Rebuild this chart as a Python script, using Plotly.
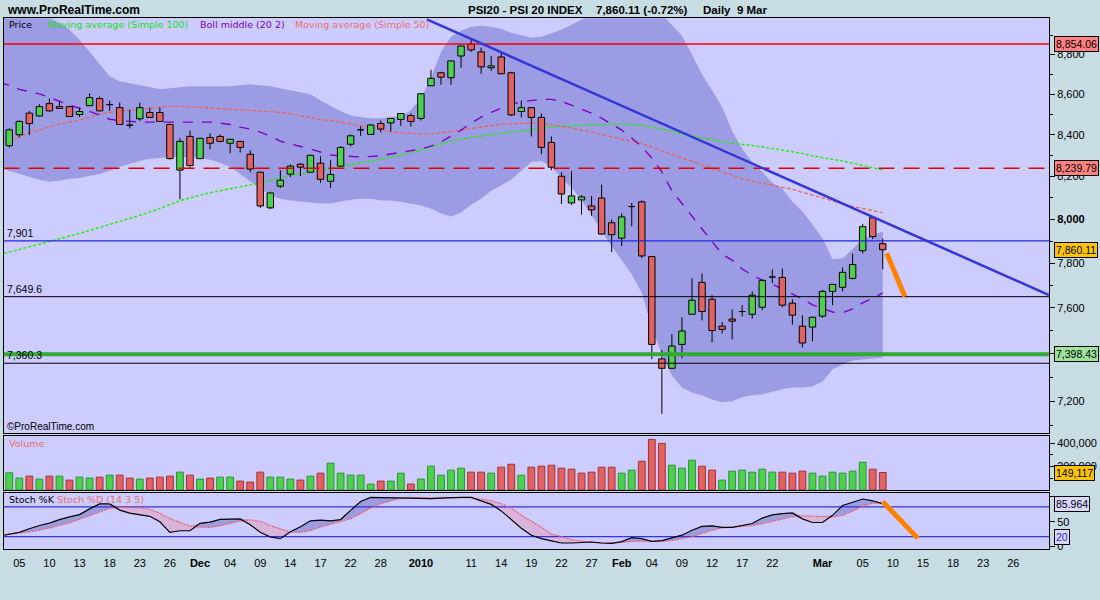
import numpy as np
import pandas as pd
import plotly.graph_objects as go

# ---------------- calendar ----------------
HOLIDAYS = ["2009-12-25", "2010-01-01"]
axis_days = [d.strftime("%Y-%m-%d") for d in pd.bdate_range("2009-11-03", "2010-03-26")]
axis_days = [d for d in axis_days if d not in HOLIDAYS]
POS = {d: i for i, d in enumerate(axis_days)}
ind_x = list(range(POS["2010-03-09"] + 1))   # indicators: 3 Nov .. 9 Mar
bar_x = ind_x[1:]                             # candles / volume: 4 Nov .. 9 Mar

# ---------------- price data (4 Nov 2009 .. 9 Mar 2010) ----------------
open_ = [8348, 8401, 8507, 8493, 8554, 8539, 8539, 8500, 8544, 8579,
         8549, 8534, 8448, 8479, 8510, 8510, 8451, 8231, 8393, 8286,
         8388, 8393, 8360, 8369, 8307, 8221, 8053, 8155, 8212, 8259,
         8221, 8264, 8178, 8250, 8355, 8425, 8403, 8456, 8459, 8476,
         8495, 8481, 8643, 8708, 8683, 8793, 8854, 8814, 8733, 8788,
         8708, 8515, 8534, 8486, 8364, 8202, 8076, 8090, 8062, 8099,
         7984, 7913, 8059, 8081, 7829, 7379, 7339, 7441, 7572, 7713,
         7638, 7520, 7551, 7584, 7572, 7603, 7737, 7735, 7621, 7520,
         7516, 7564, 7673, 7691, 7731, 7856, 8007, 7888]
high = [8432, 8472, 8518, 8551, 8579, 8564, 8541, 8534, 8605, 8589,
        8569, 8559, 8523, 8559, 8534, 8534, 8456, 8384, 8422, 8386,
        8408, 8403, 8381, 8371, 8326, 8224, 8124, 8231, 8259, 8264,
        8304, 8297, 8278, 8346, 8403, 8442, 8452, 8471, 8482, 8507,
        8505, 8605, 8723, 8713, 8770, 8846, 8880, 8835, 8793, 8809,
        8713, 8569, 8537, 8505, 8393, 8221, 8226, 8113, 8109, 8162,
        7999, 8027, 8076, 8088, 7831, 7417, 7486, 7559, 7731, 7753,
        7656, 7538, 7594, 7612, 7673, 7726, 7771, 7775, 7638, 7568,
        7561, 7680, 7706, 7780, 7843, 7979, 8011, 7911]
low = [8339, 8389, 8400, 8490, 8515, 8527, 8489, 8488, 8543, 8516,
       8518, 8450, 8432, 8469, 8484, 8465, 8281, 8093, 8243, 8284,
       8331, 8364, 8312, 8316, 8221, 8053, 8048, 8146, 8198, 8202,
       8220, 8170, 8146, 8246, 8345, 8396, 8401, 8413, 8417, 8445,
       8442, 8471, 8641, 8648, 8648, 8733, 8814, 8703, 8718, 8701,
       8493, 8486, 8393, 8307, 8231, 8071, 8067, 8021, 8016, 7929,
       7849, 7877, 7968, 7823, 7378, 7148, 7338, 7382, 7571, 7545,
       7450, 7489, 7463, 7562, 7553, 7590, 7710, 7603, 7527, 7428,
       7454, 7556, 7612, 7673, 7726, 7843, 7909, 7771]
close = [8425, 8466, 8456, 8539, 8518, 8530, 8490, 8515, 8584, 8518,
         8549, 8451, 8448, 8534, 8486, 8466, 8286, 8369, 8253, 8384,
         8360, 8369, 8379, 8340, 8236, 8062, 8123, 8183, 8250, 8245,
         8302, 8187, 8210, 8340, 8396, 8425, 8449, 8429, 8481, 8505,
         8466, 8603, 8680, 8686, 8768, 8844, 8824, 8738, 8743, 8703,
         8498, 8534, 8486, 8340, 8245, 8118, 8109, 8104, 8044, 7932,
         7929, 8011, 8059, 7832, 7441, 7339, 7434, 7499, 7634, 7584,
         7501, 7506, 7542, 7584, 7656, 7722, 7737, 7612, 7568, 7447,
         7559, 7673, 7704, 7758, 7793, 7966, 7920, 7860.11]
volume = [146300, 101200, 118100, 92700, 118100, 118100, 84300, 109700, 101200, 109700,
          126600, 126600, 101200, 92700, 101200, 109700, 118100, 151900, 126600, 92700,
          101200, 109700, 109700, 75800, 67400, 151900, 109700, 109700, 92700, 84300,
          118100, 143500, 228100, 143500, 126600, 126600, 50500, 75800, 75800, 143500,
          50500, 92700, 202700, 126600, 168900, 185800, 151900, 151900, 143500, 194200,
          219600, 126600, 194200, 202700, 211100, 185800, 177300, 143500, 151900, 194200,
          194200, 143500, 168900, 245000, 431000, 397200, 211100, 185800, 253400, 202700,
          168900, 84300, 160400, 168900, 151900, 177300, 151900, 151900, 143500, 160400,
          143500, 118100, 151900, 143500, 160400, 236500, 177300, 149117]

# ---------------- indicators (3 Nov 2009 .. 9 Mar 2010) ----------------
bb_upper = [9240, 9188, 9135, 9083, 9031, 8989, 8963, 8928, 8876, 8815, 8750,
            8690, 8665, 8655, 8645, 8635, 8625, 8630, 8635, 8640, 8640,
            8640, 8640, 8640, 8645, 8650, 8645, 8640, 8630, 8620, 8610,
            8600, 8570, 8541, 8516, 8497, 8487, 8482, 8482, 8487, 8492,
            8521, 8580, 8680, 8815, 8892, 8922, 8943, 8948, 8943, 8933,
            8912, 8897, 8886, 8892, 8912, 8928, 8953, 8979, 9010, 9041,
            9062, 9073, 9067, 9052, 9031, 9005, 8953, 8897, 8800, 8700,
            8620, 8536, 8419, 8332, 8270, 8223, 8171, 8143, 8082, 8036,
            7976, 7912, 7817, 7822, 7862, 7912, 7926, 7944]
bb_lower = [8242, 8228, 8213, 8199, 8185, 8176, 8180, 8190, 8194, 8204, 8213,
            8228, 8247, 8261, 8275, 8285, 8289, 8294, 8294, 8294, 8289,
            8280, 8266, 8247, 8213, 8176, 8143, 8114, 8096, 8087, 8082,
            8078, 8073, 8073, 8082, 8091, 8096, 8096, 8088, 8087, 8082,
            8073, 8064, 8050, 8027, 8013, 8031, 8068, 8096, 8133, 8161,
            8185, 8228, 8270, 8275, 8247, 8194, 8147, 8091, 8018, 7949,
            7876, 7813, 7750, 7666, 7513, 7398, 7308, 7258, 7237, 7225,
            7208, 7196, 7200, 7217, 7225, 7229, 7241, 7250, 7258, 7258,
            7262, 7283, 7334, 7355, 7372, 7376, 7381, 7385]
bb_mid = [8660, 8645, 8625, 8615, 8602, 8585, 8565, 8546, 8531, 8516, 8497,
          8477, 8470, 8465, 8463, 8463, 8463, 8463, 8463, 8463, 8463,
          8463, 8458, 8451, 8438, 8429, 8414, 8395, 8370, 8356, 8344,
          8332, 8318, 8303, 8299, 8296, 8294, 8296, 8299, 8308, 8315,
          8322, 8332, 8346, 8366, 8395, 8424, 8458, 8487, 8511, 8533,
          8551, 8563, 8570, 8575, 8575, 8565, 8546, 8526, 8507, 8482,
          8453, 8424, 8385, 8342, 8289, 8223, 8133, 8073, 8013, 7958,
          7899, 7840, 7813, 7773, 7745, 7723, 7705, 7684, 7662, 7640,
          7613, 7596, 7582, 7578, 7596, 7622, 7644, 7666]
ma50 = [8361, 8375, 8390, 8410, 8424, 8439, 8453, 8463, 8472, 8487, 8502,
        8511, 8516, 8524, 8528, 8533, 8538, 8541, 8541, 8538, 8536,
        8533, 8531, 8528, 8524, 8521, 8519, 8516, 8511, 8504, 8495,
        8485, 8475, 8470, 8463, 8453, 8446, 8436, 8424, 8415, 8410,
        8407, 8405, 8405, 8410, 8417, 8424, 8431, 8439, 8446, 8453,
        8455, 8458, 8458, 8455, 8451, 8443, 8434, 8424, 8415, 8403,
        8390, 8380, 8370, 8358, 8342, 8322, 8306, 8289, 8273, 8256,
        8239, 8223, 8206, 8190, 8178, 8168, 8159, 8150, 8140, 8126,
        8112, 8098, 8084, 8071, 8059, 8050, 8041, 8031]
ma100 = [7838, 7849, 7860, 7873, 7885, 7898, 7912, 7923, 7935, 7949, 7962,
         7976, 7988, 8002, 8018, 8034, 8050, 8068, 8087, 8101, 8112,
         8124, 8133, 8140, 8150, 8161, 8171, 8183, 8194, 8206, 8213,
         8220, 8228, 8237, 8247, 8256, 8263, 8271, 8280, 8292, 8304,
         8315, 8327, 8342, 8356, 8370, 8380, 8388, 8395, 8402, 8407,
         8415, 8419, 8427, 8434, 8439, 8443, 8446, 8448, 8448, 8451,
         8453, 8453, 8451, 8448, 8439, 8429, 8419, 8405, 8395, 8385,
         8375, 8368, 8361, 8356, 8349, 8342, 8334, 8327, 8320, 8311,
         8299, 8289, 8282, 8275, 8263, 8251, 8242, 8232]
stoch_k = [21, 25.5, 28.6, 36, 42.5, 47.3, 54.5, 60, 64.5, 76, 86,
           85.9, 73.5, 67.5, 65, 61, 50, 28.6, 32, 32, 47,
           49.3, 55, 55.9, 55.9, 44, 29, 19.3, 16, 30, 40,
           52, 53.3, 52, 54.5, 73, 91, 99, 98.5, 98.5, 98.5,
           97.8, 97.2, 96.6, 97.8, 99.2, 99.2, 99, 92, 85, 72,
           55, 37, 23, 16, 11.5, 7.3, 7.3, 8.5, 9.3, 7.3,
           6.6, 10, 18, 16, 10.6, 12, 17, 23, 33, 40.8,
           41.9, 38.6, 38.6, 42.4, 46.5, 57.5, 64, 66.5, 67.9, 55.9,
           48.6, 48.6, 63, 82.8, 88.8, 95.9, 92.3, 85.964]
stoch_d = [24, 26, 27.3, 29.5, 33, 37.3, 42.5, 48, 55, 62.5, 70,
           77, 79.2, 79.2, 78.3, 75, 67, 56.5, 48.5, 41, 39.5,
           38.6, 42, 47, 51.5, 53.9, 51, 42.5, 36, 29, 28.8,
           32.6, 39.5, 45, 50, 56, 66.5, 77.7, 86.5, 93, 98,
           98.5, 98.5, 98.5, 98.5, 98.5, 98.5, 98.4, 95.5, 92.5, 86.4,
           77.5, 63.5, 51, 39.3, 25, 20.3, 14, 11, 8.5, 7.3,
           7.3, 8.5, 10.6, 10.6, 10.6, 10.6, 12.5, 15.5, 20, 26.5,
           33, 37.6, 38.9, 40, 42.2, 46, 50.8, 55, 60.4, 61.9,
           61.9, 60.5, 59.5, 63, 71.5, 81.5, 87.4, 88.5]

# horizontal levels drawn on the price chart
level_values = [8854.06, 8239.79, 7901, 7649.6, 7398.43, 7360.3]
# trendline through two highs (11 Jan, 8 Mar)
trend_dates = ["2010-01-11", "2010-03-08"]
trend_prices = [8880, 8011]
# hand-drawn projections (trading-day position, value)
proj_price_x = [88.4, 90.2]
proj_price_y = [7844, 7650]
proj_stoch_x = [88.0, 91.5]
proj_stoch_y = [90.6, 16.6]

tick_dates = ["2009-11-05", "2009-11-10", "2009-11-13", "2009-11-18", "2009-11-23", "2009-11-26",
              "2009-12-01", "2009-12-04", "2009-12-09", "2009-12-14", "2009-12-17", "2009-12-22",
              "2009-12-28", "2010-01-04", "2010-01-11", "2010-01-14", "2010-01-19", "2010-01-22",
              "2010-01-27", "2010-02-01", "2010-02-04", "2010-02-09", "2010-02-12", "2010-02-17",
              "2010-02-22", "2010-03-01", "2010-03-05", "2010-03-10", "2010-03-15", "2010-03-18",
              "2010-03-23", "2010-03-26"]
tick_text = ["05", "10", "13", "18", "23", "26", "<b>Dec</b>", "04", "09", "14", "17", "22",
             "28", "<b>2010</b>", "11", "14", "19", "22", "27", "<b>Feb</b>", "04", "09", "12", "17",
             "22", "<b>Mar</b>", "05", "10", "15", "18", "23", "26"]
price_ticks = [7200, 7400, 7600, 7800, 8000, 8200, 8400, 8600, 8800]
price_minor = [7100, 7300, 7500, 7700, 7900, 8100, 8300, 8500, 8700, 8900]

# ---------------- styling ----------------
W, H = 1100, 600
PAGE = "#C8DCE4"
PANEL = "#CCCCFF"
BAND = "#9C9CE4"
GREEN = "#4FCF4F"
RED = "#E06262"
FONT = "Arial, 'Liberation Sans', sans-serif"
SFONT = "'DejaVu Sans', Verdana, sans-serif"
HW = 0.32  # half width of a candle body (in trading days)

def px_x(p):
    return p / W

def px_y(p):
    return 1 - p / H

XD = [px_x(3.5), px_x(1049)]
YD_PRICE = [px_y(436.3), px_y(18.3)]
YD_VOL = [px_y(493.3), px_y(439.3)]
YD_STO = [px_y(552.3), px_y(496)]
X_RANGE = [0.426, 104.56]
XEND = [X_RANGE[0], X_RANGE[1]]

fig = go.Figure()

# Bollinger band
fig.add_trace(go.Scatter(x=ind_x, y=bb_upper, mode="lines", line=dict(width=0),
                         xaxis="x", yaxis="y", hoverinfo="skip"))
fig.add_trace(go.Scatter(x=ind_x, y=bb_lower, mode="lines", line=dict(width=0),
                         fill="tonexty", fillcolor=BAND, xaxis="x", yaxis="y", hoverinfo="skip"))
# moving averages
fig.add_trace(go.Scatter(x=ind_x, y=ma100, mode="lines",
                         line=dict(color="#22EE00", width=1.4, dash="3px,2px"), xaxis="x", yaxis="y"))
fig.add_trace(go.Scatter(x=ind_x, y=ma50, mode="lines",
                         line=dict(color="#F06050", width=1.2, dash="4px,2px"), xaxis="x", yaxis="y"))
fig.add_trace(go.Scatter(x=ind_x, y=bb_mid, mode="lines",
                         line=dict(color="#8000C0", width=1.4, dash="10px,9px"), xaxis="x", yaxis="y"))

# candles: wicks, then bodies (drawn as scatter shapes so they sit above the band fill)
wx, wy = [], []
for i, xv in enumerate(bar_x):
    wx += [xv, xv, None]
    wy += [low[i], high[i], None]
fig.add_trace(go.Scatter(x=wx, y=wy, mode="lines", line=dict(color="black", width=1),
                         xaxis="x", yaxis="y", hoverinfo="skip"))
for up, colr in ((True, GREEN), (False, RED)):
    bx, byy = [], []
    for i, xv in enumerate(bar_x):
        if (close[i] > open_[i]) != up:
            continue
        x0, x1 = xv - HW, xv + HW
        bx += [x0, x1, x1, x0, x0, None]
        byy += [open_[i], open_[i], close[i], close[i], open_[i], None]
    fig.add_trace(go.Scatter(x=bx, y=byy, mode="lines", fill="toself", fillcolor=colr,
                             line=dict(color="black", width=1), xaxis="x", yaxis="y", hoverinfo="skip"))

# horizontal levels
level_styles = [dict(color="#FF0000", width=1.5),
                dict(color="#E00000", width=1.5, dash="16px,9px"),
                dict(color="#2424E0", width=1.2),
                dict(color="black", width=1),
                dict(color="#33AA33", width=4),
                dict(color="black", width=1)]
for lv, st in zip(level_values, level_styles):
    fig.add_trace(go.Scatter(x=XEND, y=[lv, lv], mode="lines", line=st, xaxis="x", yaxis="y"))

# trendline (straight on the log scale), extended to the panel edges
tx = [POS[dd] for dd in trend_dates]
slope = (np.log(trend_prices[1]) - np.log(trend_prices[0])) / (tx[1] - tx[0])
t_ext = np.array([42.6, X_RANGE[1]])
t_val = np.exp(np.log(trend_prices[0]) + slope * (t_ext - tx[0]))
fig.add_trace(go.Scatter(x=t_ext, y=t_val, mode="lines", line=dict(color="#3535D8", width=2.5),
                         xaxis="x", yaxis="y"))
fig.add_trace(go.Scatter(x=proj_price_x, y=proj_price_y, mode="lines",
                         line=dict(color="#FF8000", width=5), xaxis="x", yaxis="y"))

# volume
vcol, vedge = [], []
for i, c in enumerate(close):
    up = True if i == 0 else c >= close[i - 1]
    vcol.append(GREEN if up else RED)
    vedge.append("#2A962A" if up else "#A83030")
fig.add_trace(go.Bar(x=bar_x, y=volume, width=0.68,
                     marker=dict(color=vcol, line=dict(color=vedge, width=1)),
                     xaxis="x2", yaxis="y2"))

# stochastic
k = np.array(stoch_k, dtype=float)
d = np.array(stoch_d, dtype=float)
fig.add_trace(go.Scatter(x=ind_x, y=d, mode="lines", line=dict(width=0), xaxis="x3", yaxis="y3"))
fig.add_trace(go.Scatter(x=ind_x, y=np.maximum(k, d), mode="lines", line=dict(width=0),
                         fill="tonexty", fillcolor="#9C9CE0", xaxis="x3", yaxis="y3"))
fig.add_trace(go.Scatter(x=ind_x, y=d, mode="lines", line=dict(width=0), xaxis="x3", yaxis="y3"))
fig.add_trace(go.Scatter(x=ind_x, y=np.minimum(k, d), mode="lines", line=dict(width=0),
                         fill="tonexty", fillcolor="#D8B4DC", xaxis="x3", yaxis="y3"))
for lv in (80, 20):
    fig.add_trace(go.Scatter(x=XEND, y=[lv, lv], mode="lines",
                             line=dict(color="#3333DD", width=1.2), xaxis="x3", yaxis="y3"))
fig.add_trace(go.Scatter(x=ind_x, y=d, mode="lines",
                         line=dict(color="#F06060", width=1.2, dash="2px,1px"), xaxis="x3", yaxis="y3"))
fig.add_trace(go.Scatter(x=ind_x, y=k, mode="lines",
                         line=dict(color="black", width=1.2), xaxis="x3", yaxis="y3"))
fig.add_trace(go.Scatter(x=proj_stoch_x, y=proj_stoch_y, mode="lines",
                         line=dict(color="#FF8000", width=5), xaxis="x3", yaxis="y3"))

# ---------------- axes ----------------
axis_common = dict(showline=True, mirror=True, linecolor="black", linewidth=1,
                   showgrid=False, zeroline=False)
xcommon = dict(axis_common, domain=XD, range=X_RANGE, ticks="")
tickvals_x = [POS[t] for t in tick_dates]

price_text = ["<b>8,000</b>" if v == 8000 else f"{v:,}" for v in price_ticks]

fig.update_layout(
    width=W, height=H, margin=dict(l=0, r=0, t=0, b=0),
    paper_bgcolor=PAGE, plot_bgcolor=PANEL, showlegend=False,
    font=dict(family=FONT, size=11, color="black"),
    xaxis=dict(xcommon, anchor="y", showticklabels=False),
    xaxis2=dict(xcommon, anchor="y2", showticklabels=False),
    xaxis3=dict(xcommon, anchor="y3", showticklabels=True, tickmode="array",
                tickvals=tickvals_x, ticktext=tick_text, tickfont=dict(size=11, family=FONT),
                ticks="outside", ticklen=4, tickcolor="rgba(0,0,0,0)"),
    yaxis=dict(axis_common, domain=YD_PRICE, type="log",
               range=[np.log10(7067.5), np.log10(8987.6)], side="right", anchor="x",
               tickmode="array", tickvals=price_ticks, ticktext=price_text,
               ticks="outside", ticklen=5, tickcolor="black", tickfont=dict(size=11),
               minor=dict(tickmode="array", tickvals=price_minor, ticks="outside",
                          ticklen=3, tickcolor="black")),
    yaxis2=dict(axis_common, domain=YD_VOL, range=[0, 456700], side="right", anchor="x2",
                tickmode="array", tickvals=[200000, 400000], ticktext=["200,000", "400,000"],
                ticks="outside", ticklen=5, tickcolor="black", tickfont=dict(size=11),
                minor=dict(tickmode="array", tickvals=[100000, 300000], ticks="outside",
                           ticklen=3, tickcolor="black")),
    yaxis3=dict(axis_common, domain=YD_STO, range=[-4, 108.6], side="right", anchor="x3",
                tickmode="array", tickvals=[0, 50, 100], ticktext=["0", "50", ""],
                ticks="outside", ticklen=5, tickcolor="black", tickfont=dict(size=11)),
)

# ---------------- annotations ----------------
ann = []
ann.append(dict(xref="paper", yref="paper", x=px_x(5), y=px_y(10), xanchor="left", yanchor="middle",
                text="<b>www.ProRealTime.com</b>", showarrow=False, font=dict(size=12, family=FONT)))
for txt, xx in [("PSI20 - PSI 20 INDEX", 466), ("7,860.11 (-0.72%)", 594), ("Daily&nbsp;&nbsp;9 Mar", 701)]:
    ann.append(dict(xref="paper", yref="paper", x=px_x(xx), y=px_y(10), xanchor="left", yanchor="middle",
                    text=f"<b>{txt}</b>", showarrow=False, font=dict(size=11.5, family=FONT)))
legend_items = [("Price", "black", 7), ("Moving average (Simple 100)", "#11E011", 45.5),
                ("Boll middle (20 2)", "#7F00BF", 198), ("Moving average (Simple 50)", "#E87070", 292.5)]
for txt, col, xx in legend_items:
    ann.append(dict(xref="paper", yref="paper", x=px_x(xx), y=px_y(25), xanchor="left", yanchor="middle",
                    text=txt, showarrow=False, font=dict(size=9.5, family=SFONT, color=col)))
ann.append(dict(xref="paper", yref="paper", x=px_x(5), y=px_y(429), xanchor="left", yanchor="middle",
                text="©ProRealTime.com", showarrow=False, font=dict(size=10, family=FONT)))
ann.append(dict(xref="paper", yref="paper", x=px_x(7), y=px_y(446), xanchor="left", yanchor="middle",
                text="Volume", showarrow=False, font=dict(size=9.5, family=SFONT, color="#E87070")))
ann.append(dict(xref="paper", yref="paper", x=px_x(7), y=px_y(503), xanchor="left", yanchor="middle",
                text="Stoch %K <span style='color:#E87070'>Stoch %D (14 3 5)</span>", showarrow=False,
                font=dict(size=9.5, family=SFONT, color="black")))
for lv, txt in [(7901, "7,901"), (7649.6, "7,649.6"), (7360.3, "7,360.3")]:
    ann.append(dict(xref="paper", yref="y", x=px_x(5), y=np.log10(lv), xanchor="left", yanchor="bottom",
                    text=txt, showarrow=False, font=dict(size=10.5, family=FONT)))

def box(text, yref, y, bg, color="black"):
    return dict(xref="paper", yref=yref, x=px_x(1054), y=y, xanchor="left", yanchor="middle",
                text=text, showarrow=False, bgcolor=bg, bordercolor="black", borderwidth=1,
                borderpad=1, font=dict(size=10.5, family=FONT, color=color))

ann.append(box("8,854.06", "y", np.log10(8854.06), "#FF8080"))
ann.append(box("8,239.79", "y", np.log10(8239.79), "#FF8080"))
ann.append(box("7,860.11", "y", np.log10(close[-1]), "#FFC400"))
ann.append(box("7,398.43", "y", np.log10(7398.43), "#9CE49C"))
ann.append(box(f"{volume[-1]:,}", "y2", volume[-1], "#FFC400"))
ann.append(box(f"{stoch_k[-1]}", "y3", stoch_k[-1], "#D8D8FF"))
ann.append(box("20", "y3", 20, "#D8D8FF", color="#2424E0"))

fig.update_layout(annotations=ann)
fig.write_html("out.html", config={"displayModeBar": False},
               post_script="document.body.style.margin='0';document.body.style.overflow='hidden';")
